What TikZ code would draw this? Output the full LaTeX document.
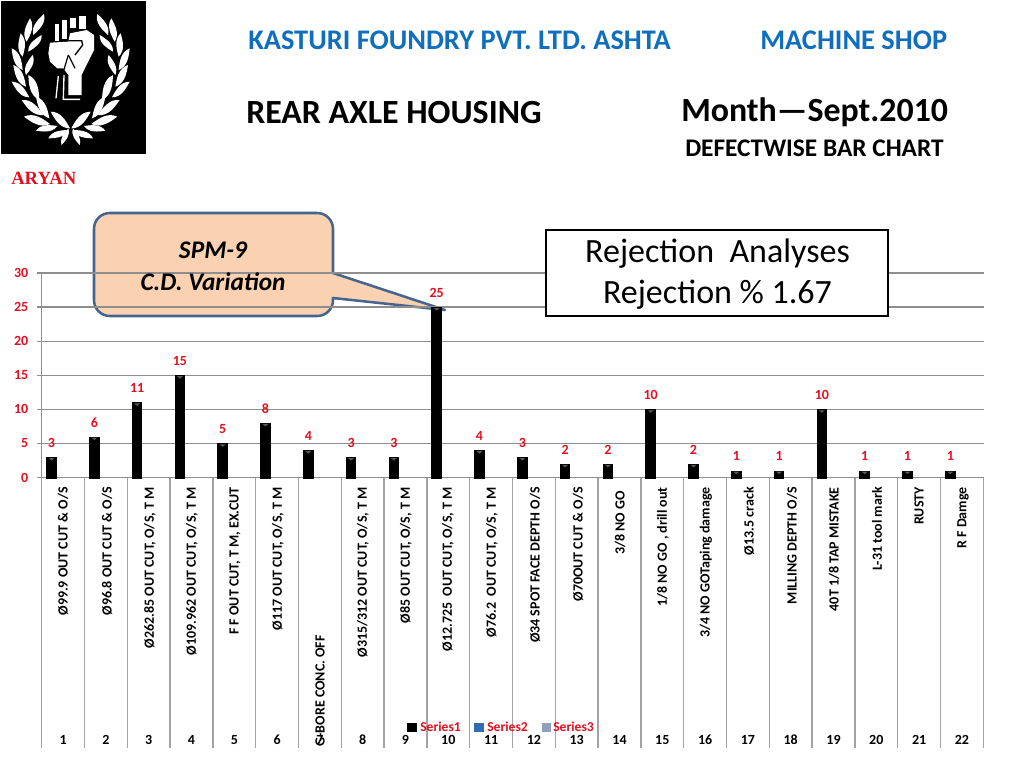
\documentclass[tikz,border=0pt]{standalone}
\usepackage{fontspec}
\setmainfont{Carlito}
\newfontfamily\serifface{Liberation Serif}
\usetikzlibrary{calc}
\definecolor{titleblue}{HTML}{0F6FBE}
\definecolor{redlabel}{HTML}{E3101F}
\definecolor{gridgray}{HTML}{8E8E8E}
\definecolor{tickgray}{HTML}{A2A2A2}
\definecolor{calloutfill}{HTML}{FAD2B2}
\definecolor{calloutedge}{HTML}{45658F}
\definecolor{legblue}{HTML}{2F6DB0}
\definecolor{leggray}{HTML}{8FA0BC}
\newcommand{\fsz}[1]{\fontsize{#1}{#1}\selectfont}
\newcommand{\leafshape}[4]{%
  \coordinate (A) at (#1,#2);\coordinate (B) at (#3,#4);
  \fill[white] (A) .. controls ($(A)!.3!(B)!.38!90:(B)$) and ($(A)!.7!(B)!.38!90:(B)$) .. (B)
     .. controls ($(B)!.3!(A)!.38!90:(A)$) and ($(B)!.7!(A)!.38!90:(A)$) .. (A) -- cycle;}
\newcommand{\wreathside}{%
  \leafshape{100}{105}{132}{42}\leafshape{80}{125}{90}{55}\leafshape{85}{155}{125}{105}
  \leafshape{68}{170}{62}{100}\leafshape{78}{225}{98}{165}\leafshape{68}{210}{35}{145}
  \leafshape{78}{260}{40}{195}\leafshape{118}{300}{85}{225}\leafshape{88}{292}{35}{245}
  \leafshape{148}{355}{108}{290}\leafshape{130}{345}{65}{300}\leafshape{150}{372}{72}{350}
  \leafshape{172}{378}{108}{392}\leafshape{205}{390}{145}{415}\leafshape{210}{385}{152}{335}
  \leafshape{205}{385}{185}{435}}
\tikzset{
  px/.style={x=.75pt,y=-.75pt},
  gridline/.style={draw=gridgray,line width=.9pt},
  tickline/.style={draw=tickgray,line width=1pt},
  axisnum/.style={text=redlabel,font=\bfseries\fsz{10.5},inner sep=0pt},
  vallabel/.style={text=redlabel,font=\bfseries\fsz{10.5},inner sep=0pt},
  catnum/.style={text=black,font=\bfseries\fsz{10.5},inner sep=0pt},
  catlabel/.style={rotate=90,anchor=east,text=black,font=\bfseries\fsz{10.5},inner sep=0pt},
  barshape/.style={fill=black},
  legendtext/.style={text=redlabel,font=\bfseries\fsz{10.2},inner sep=0pt,anchor=west},
  titletext/.style={inner sep=0pt,anchor=west,font=\bfseries\fsz{21.3}},
}
\begin{document}
\begin{tikzpicture}[px]
\useasboundingbox (0,0) rectangle (1024,768);
\fill[white] (0,0) rectangle (1024,768);
% logo
\fill[black] (1,1) rectangle (146,154);
\begin{scope}[x=.25pt,y=-.25pt]
  \wreathside
  \begin{scope}[shift={(424,0)},xscale=-1]\wreathside\end{scope}
  \fill[white] (165,72) rectangle (178,122);
  \fill[white] (185,60) rectangle (202,118);
  \fill[white] (210,55) rectangle (228,85);
  \fill[white] (238,48) rectangle (258,88);
  \fill[white] (145,160) -- (150,128) -- (205,125) -- (210,100) -- (260,90) -- (282,105)
     -- (282,150) -- (262,190) -- (245,225) -- (245,285) -- (205,285) -- (205,225)
     -- (190,205) -- (172,205) -- (150,185) -- cycle;
  \draw[black,line width=1pt] (205,122) -- (245,122) -- (248,135) -- (225,165);
  \draw[black,line width=.9pt] (205,165) -- (190,215);
  \draw[black,line width=.9pt] (205,165) -- (225,205);
  \draw[white,line width=1pt] (175,228) -- (168,295);
  \draw[white,line width=1pt] (192,225) -- (190,298) -- (240,298);
\end{scope}
\node[inner sep=0pt,anchor=west,text=redlabel,font=\serifface\bfseries\fsz{14}] (aryan) at (11,178) {ARYAN};
% titles
\node[titletext,text=titleblue] (t1) at (248,40) {KASTURI FOUNDRY PVT. LTD. ASHTA};
\node[titletext,text=titleblue] (t2) at (760,40) {MACHINE SHOP};
\node[titletext,font=\bfseries\fsz{25.4}] (t3) at (246,112.5) {REAR AXLE HOUSING};
\node[titletext,font=\bfseries\fsz{25.4}] (t4) at (681,112.5) {Month—Sept.2010};
\node[titletext,font=\bfseries\fsz{19}] (t5) at (685,148.5) {DEFECTWISE BAR CHART};
% callout body
\draw[fill=calloutfill,draw=calloutedge,line width=1.9pt,line join=round]
  (333,273) -- (333,229) .. controls (333,220) and (326,213) .. (317,213)
  -- (110,213) .. controls (101,213) and (94,220) .. (94,229)
  -- (94,300) .. controls (94,309) and (101,316) .. (110,316)
  -- (317,316) .. controls (326,316) and (333,309) .. (333,300)
  -- (333,298) -- (445,310) -- cycle;
% grid
\foreach \v/\yy in {0/477.5,5/443.4,10/409.3,15/375.2,20/341.1,25/307,30/273}{
  \draw[gridline] (37,\yy) -- (983.5,\yy);
  \node[axisnum,anchor=east] (ax\v) at (28.5,\yy) {\v};
}
\draw[gridline] (41.7,273) -- (41.7,477.5);
\foreach \i in {0,...,22}{
  \draw[tickline] ({41.7+42.8*\i},477.5) -- ({41.7+42.8*\i},748);
}
% bars
\foreach \i/\v in {1/3,2/6,3/11,4/15,5/5,6/8,7/4,8/3,9/3,10/25,11/4,12/3,13/2,14/2,15/10,16/2,17/1,18/1,19/10,20/1,21/1,22/1}{
  \pgfmathsetmacro{\bx}{51.5+42.8*(\i-1)}
  \pgfmathsetmacro{\by}{477.5-6.82*\v}
  \fill[barshape] ({\bx-5.3},\by) rectangle ({\bx+5.3},478.5);
  \fill[gray!70!black] ({\bx-3},{\by+1}) -- ({\bx+3},{\by+1}) -- (\bx,{\by+3.5}) -- cycle;
  \node[vallabel] (val\i) at (\bx,{\by-14.3}) {\v};
}
% category numbers
\foreach \i in {1,...,22}{
  \node[catnum] (num\i) at ({63.1+42.8*(\i-1)},739.5) {\i};
}
% category labels
\foreach \i/\xx/\yy/\t in {
 1/63/487/{Ø99.9 OUT CUT \& O/S},
 2/107/487/{Ø96.8 OUT CUT \& O/S},
 3/150/487/{Ø262.85 OUT CUT, O/S, T M},
 4/192/487/{Ø109.962 OUT CUT, O/S, T M},
 5/235/487/{F F OUT CUT, T M, EX.CUT},
 6/278/487/{Ø117 OUT CUT, O/S, T M},
 7/320/635/{G-BORE CONC. OFF},
 8/363/487/{Ø315/312 OUT CUT, O/S, T M},
 9/406/487/{Ø85 OUT CUT, O/S, T M},
 10/448/487/{Ø12.725\ \ OUT CUT, O/S, T M},
 11/492/487/{Ø76.2\ \ OUT CUT, O/S, T M},
 12/535/487/{Ø34 SPOT FACE DEPTH O/S},
 13/578/487/{Ø70OUT CUT \& O/S},
 14/620/491/{3/8 NO GO},
 15/663/487/{1/8 NO GO , drill out},
 16/706/487/{3/4 NO GOTaping damage},
 17/749/487/{Ø13.5 crack},
 18/792/487/{MILLING DEPTH O/S},
 19/834/487/{40T 1/8 TAP MISTAKE},
 20/877/487/{L-31 tool mark},
 21/919/487/{RUSTY},
 22/963/487/{R F Damge}}{
  \node[catlabel] (cat\i) at (\xx,\yy) {\t};
}
% legend
\fill[black] (407,723) rectangle (417,732);
\node[legendtext] (s1) at (420,727) {Series1};
\fill[legblue] (474,723) rectangle (484,732);
\node[legendtext] (s2) at (487,727) {Series2};
\fill[leggray] (542,723) rectangle (551,732);
\node[legendtext] (s3) at (553,727) {Series3};
% callout text
\node[inner sep=0pt,font=\bfseries\itshape\fsz{19}] (spm) at (213,250.5) {SPM-9};
\node[inner sep=0pt,font=\bfseries\itshape\fsz{19}] (cd) at (213,281.5) {C.D. Variation};
% rejection box
\draw[fill=white,draw=black,line width=1.9pt] (546,230) rectangle (888,316);
\node[inner sep=0pt,font=\fsz{25.5}] (r1) at (717.5,253.5) {Rejection\ \ Analyses};
\node[inner sep=0pt,font=\fsz{25.5}] (r2) at (717.5,294.5) {Rejection \% 1.67};
\end{tikzpicture}
\end{document}
